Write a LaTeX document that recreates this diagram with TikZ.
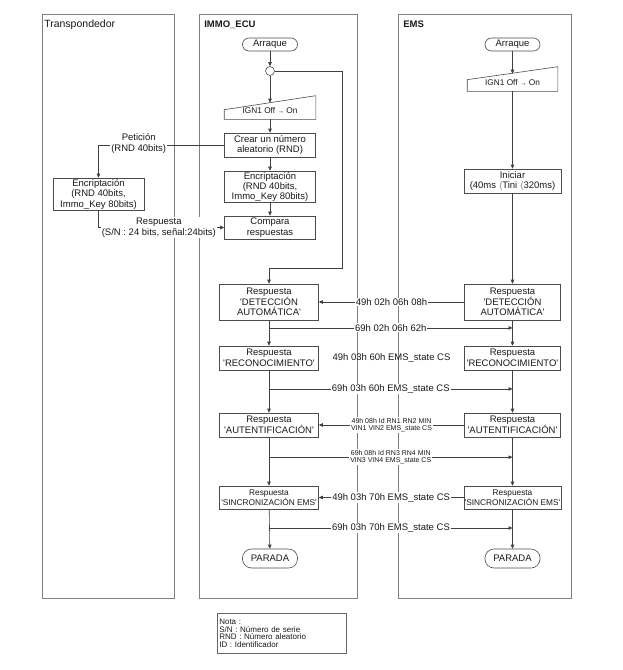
\documentclass[tikz,border=0pt]{standalone}
\usepackage{fontspec}
\newfontfamily\diafont{Liberation Sans}
\usetikzlibrary{arrows.meta,calc}

\begin{document}
\begin{tikzpicture}[x=1pt,y=-1pt,>={Triangle[length=4pt,width=3.5pt]},line width=0.6pt,
    every node/.style={font=\diafont\fontsize{9.5}{10.5}\selectfont, text=black!90},
    lane/.style={draw=black!50, line width=0.7pt},
    head/.style={anchor=base west, inner sep=0pt},
    proc/.style={rectangle, draw=black!70, minimum width=91pt, align=center, inner sep=1pt},
    resp/.style={proc, minimum width=99pt},
    term/.style={rectangle, rounded corners=6.5pt, draw=black!70, minimum width=55pt, minimum height=13pt, inner sep=1pt},
    small text/.style={font=\diafont\fontsize{8.3}{10}\selectfont},
    msg/.style={fill=white, inner sep=1pt, midway},
    tiny msg/.style={msg, align=center, font=\diafont\fontsize{7}{7}\selectfont}]

	\useasboundingbox (0,0) rectangle (622,670);

	% lanes
	\draw[lane] (42,14) rectangle (174,598);
	\draw[lane] (199,14) rectangle (357,598);
	\draw[lane] (398,14) rectangle (571,598);
	\node[head, font=\diafont\fontsize{10.5}{12}\selectfont] (hT) at (44,27) {Transpondedor};
	\node[head, font=\diafont\bfseries\fontsize{9.5}{11}\selectfont] (hI) at (204,27) {IMMO\_ECU};
	\node[head, font=\diafont\bfseries\fontsize{9.5}{11}\selectfont] (hE) at (403,27) {EMS};

	% IMMO_ECU
	\node[term] (arrI) at (270,44.5) {Arraque};
	\node[circle, draw=black!70, minimum size=9pt, inner sep=0pt] (cI) at (270,71) {};
	\node[small text, minimum width=91pt, minimum height=16pt, inner sep=0pt] (ignI) at (270,111) {IGN1 Off {\fontsize{6.5}{8}\selectfont→} On};
	\draw[black!70] (ignI.south west) -- (ignI.south east) -- ([yshift=7pt]ignI.north east) -- ([yshift=-7pt]ignI.north west) -- cycle;
	\node[proc, minimum height=24pt] (crI) at (270,145) {Crear un número\\aleatorio (RND)};
	\node[proc, minimum height=29pt, font=\diafont\fontsize{9.5}{10}\selectfont] (encI) at (270,186.5) {Encriptación\\(RND 40bits,\\Immo\_Key 80bits)};
	\node[proc, minimum height=23pt] (cmpI) at (270,227.5) {Compara\\respuestas};

	\node[resp, minimum height=36pt] (detI) at (269,302) {Respuesta\\'DETECCIÓN\\AUTOMÁTICA'};
	\node[resp, minimum height=24pt] (recI) at (269,358) {Respuesta\\'RECONOCIMIENTO'};
	\node[resp, minimum height=24pt] (autI) at (269,425) {Respuesta\\'AUTENTIFICACIÓN'};
	\node[resp, small text, minimum height=23pt] (sinI) at (269,497.5) {Respuesta\\'SINCRONIZACIÓN EMS'};
	\node[term, minimum height=19pt, rounded corners=9pt] (parI) at (270,558.5) {PARADA};

	% Transpondedor
	\node[proc, minimum height=32pt] (encT) at (98.5,194) {Encriptación\\(RND 40bits,\\Immo\_Key 80bits)};

	% EMS
	\node[term] (arrE) at (512.5,44.5) {Arraque};
	\node[small text, minimum width=90pt, minimum height=17pt, inner sep=0pt] (ignE) at (512.5,82.5) {IGN1 Off {\fontsize{6.5}{8}\selectfont→} On};
	\draw[black!70] (ignE.south west) -- (ignE.south east) -- ([yshift=7pt]ignE.north east) -- ([yshift=-6pt]ignE.north west) -- cycle;
	\node[proc, minimum width=97pt, minimum height=24pt] (iniE) at (512.5,181) {Iniciar\\(40ms $\langle$Tini $\langle$320ms)};

	\node[resp, minimum width=96pt, minimum height=36pt] (detE) at (512.5,302) {Respuesta\\'DETECCIÓN\\AUTOMÁTICA'};
	\node[resp, minimum width=96pt, minimum height=24pt] (recE) at (512.5,358) {Respuesta\\'RECONOCIMIENTO'};
	\node[resp, minimum width=96pt, minimum height=24pt] (autE) at (512.5,425) {Respuesta\\'AUTENTIFICACIÓN'};
	\node[resp, small text, minimum width=96pt, minimum height=23pt] (sinE) at (512.5,497.5) {Respuesta\\'SINCRONIZACIÓN EMS'};
	\node[term, minimum height=19pt, rounded corners=9pt] (parE) at (512.5,558.5) {PARADA};

	\path[->, black!75]
	(arrI) edge (cI)
	(cI) edge (ignI.north)
	(ignI) edge (crI)
	(crI) edge (encI)
	(encI) edge (cmpI)
	(detI) edge (recI)
	(recI) edge (autI)
	(autI) edge (sinI)
	(sinI) edge (parI)

	(arrE) edge (ignE.north)
	(ignE) edge (iniE)
	(iniE) edge (detE)
	(detE) edge (recE)
	(recE) edge (autE)
	(autE) edge (sinE)
	(sinE) edge (parE)

	(detE) edge node[msg] {49h 02h 06h 08h} (detI)
	(autE) edge node[tiny msg] {49h 08h Id RN1 RN2 MIN\\VIN1 VIN2 EMS\_state CS} (autI)
	(sinE) edge node[msg] {49h 03h 70h EMS\_state CS} (sinI);

	% loop from the junction
	\coordinate (loopc) at (342,268);
	\draw[->, black!75] (cI.east) -| (loopc) -| (detI.north);

	% transponder exchange
	\draw[->, black!75] (crI.west) -| (encT.north) node[pos=0.34, yshift=1.5pt, fill=white, inner sep=1pt, align=center] {Petición\\(RND 40bits)};
	\draw[->, black!75] (encT.south) |- (cmpI.west) node[pos=0.74, fill=white, inner sep=1pt, align=center] {Respuesta\\(S/N : 24 bits, señal:24bits)};

	% IMMO_ECU -> EMS
	\coordinate (q1) at ($(detI.south)!0.3!(recI.north)$);
	\coordinate (q2) at ($(recI.south)!0.44!(autI.north)$);
	\coordinate (q3) at ($(autI.south)!0.41!(sinI.north)$);
	\coordinate (q4) at ($(sinI.south)!0.475!(parI.north)$);
	\draw[->, black!75] (q1) -- (q1 -| detE.south) node[msg] {69h 02h 06h 62h};
	\draw[->, black!75] (q2) -- (q2 -| recE.south) node[msg] {69h 03h 60h EMS\_state CS};
	\draw[->, black!75] (q3) -- (q3 -| autE.south) node[tiny msg] {69h 08h Id RN3 RN4 MIN\\VIN3 VIN4 EMS\_state CS};
	\draw[->, black!75] (q4) -- (q4 -| sinE.south) node[msg] {69h 03h 70h EMS\_state CS};
	\node (m3) at ($(recI.east)!0.5!(recE.west)$) {49h 03h 60h EMS\_state CS};

	% note
	\node[draw=black!60, anchor=north west, minimum width=129pt, minimum height=40pt, text width=125pt, align=left, inner sep=2pt, font=\diafont\fontsize{8}{7.6}\selectfont] (nota) at (217,613) {Nota :\\S/N : Número de serie\\RND : Número aleatorio\\ID : Identificador};

\end{tikzpicture}
\end{document}
